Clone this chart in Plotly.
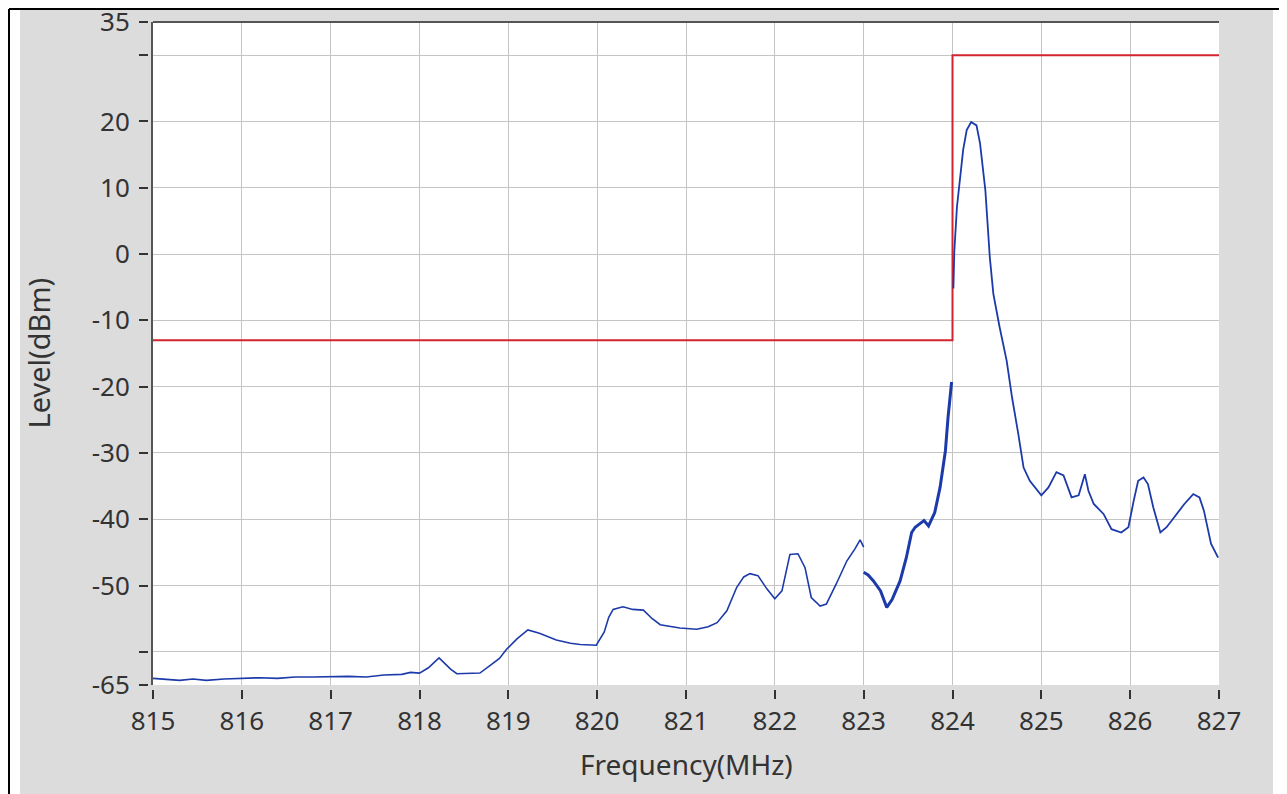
import plotly.graph_objects as go

# spectrum trace (three separate sweeps)
SEG1_FREQ = [815.0, 815.15, 815.3, 815.45, 815.6, 815.8, 816.0, 816.2, 816.4, 816.6, 816.8, 817.0, 817.2,
             817.4, 817.6, 817.8, 817.9, 818.0, 818.1, 818.22, 818.35, 818.42,
             818.68, 818.8, 818.9, 818.98, 819.1, 819.22, 819.35, 819.54, 819.7, 819.81, 819.99, 820.08,
             820.13, 820.18, 820.29, 820.4, 820.52, 820.62, 820.71, 820.93, 821.12, 821.25, 821.35, 821.46,
             821.57, 821.65, 821.72, 821.81, 821.91, 822.0, 822.08, 822.17, 822.26, 822.34, 822.41, 822.51,
             822.58, 822.69, 822.81, 822.9, 822.96, 823.0]
SEG1_LEVEL = [-64.0, -64.2, -64.3, -64.1, -64.3, -64.1, -64.0, -63.9, -64.0, -63.8, -63.8, -63.7, -63.7,
              -63.8, -63.5, -63.4, -63.1, -63.2, -62.4, -60.9, -62.6, -63.3,
              -63.2, -62.0, -61.0, -59.6, -58.0, -56.7, -57.2, -58.2, -58.7, -58.9, -59.0, -57.0,
              -54.8, -53.6, -53.2, -53.6, -53.7, -55.0, -55.9, -56.4, -56.6, -56.2, -55.6, -53.8,
              -50.3, -48.7, -48.2, -48.5, -50.5, -52.0, -50.8, -45.3, -45.2, -47.3, -51.8, -53.1,
              -52.8, -49.8, -46.3, -44.5, -43.1, -44.2]

SEG2_FREQ = [823.0, 823.05, 823.11, 823.19, 823.26, 823.32, 823.41, 823.48, 823.54, 823.58, 823.63, 823.68,
             823.73, 823.80, 823.86, 823.92, 823.95, 823.99]
SEG2_LEVEL = [-48.0, -48.4, -49.3, -50.8, -53.3, -52.1, -49.3, -45.8, -42.0, -41.2, -40.7, -40.2,
              -41.0, -39.0, -35.2, -29.7, -24.6, -19.3]

SEG3_FREQ = [824.01, 824.02, 824.05, 824.08, 824.12, 824.16, 824.21, 824.27, 824.31, 824.37, 824.42,
             824.46, 824.53, 824.61, 824.67, 824.74, 824.80, 824.87, 825.0, 825.08, 825.17, 825.25,
             825.34, 825.42, 825.49, 825.53, 825.59, 825.70, 825.79, 825.90, 825.98, 826.04, 826.09,
             826.15, 826.20, 826.26, 826.34, 826.41, 826.52, 826.61, 826.71, 826.78, 826.83, 826.91, 826.99]
SEG3_LEVEL = [-5.2, 0.3, 7.1, 11.1, 15.7, 18.7, 19.9, 19.4, 16.7, 9.6, -0.5,
              -6.0, -11.0, -16.1, -21.6, -27.1, -32.2, -34.2, -36.4, -35.2, -32.9, -33.4,
              -36.7, -36.4, -33.2, -35.7, -37.7, -39.2, -41.5, -42.0, -41.2, -37.2, -34.2,
              -33.7, -34.7, -38.2, -42.0, -41.2, -39.2, -37.7, -36.2, -36.7, -38.7, -43.7, -45.8]

# limit mask
LIMIT_FREQ = [815, 824, 824, 827]
LIMIT_LEVEL = [-13, -13, 30, 30]

X_TICKS = list(range(815, 828))
Y_TICKS = [35, 30, 20, 10, 0, -10, -20, -30, -40, -50, -60, -65]
Y_TICK_TEXT = ["35", "", "20", "10", "0", "-10", "-20", "-30", "-40", "-50", "", "-65"]

# the page puts the figure 8px in from the window corner, so size it to fit
OFF = 8
PAGE_W, PAGE_H = 1287, 794
W, H = PAGE_W - OFF, PAGE_H - OFF
# plot area in window pixels
PL, PR, PT, PB = 153, 1219, 22, 685

FONT = "Noto Sans"
TEXT_COLOR = "#333333"
PANEL = "#dcdcdc"
BLUE = "#1c3aa9"
RED = "#d3232c"


def px_x(p):
  return (p - PL) / (PR - PL)


def px_y(p):
  return (PB - p) / (PB - PT)


def main():
  fig = go.Figure()
  fig.add_trace(go.Scatter(x=LIMIT_FREQ, y=LIMIT_LEVEL, mode="lines", line=dict(color=RED, width=2)))
  fig.add_trace(go.Scatter(x=SEG1_FREQ, y=SEG1_LEVEL, mode="lines", line=dict(color=BLUE, width=1.6)))
  fig.add_trace(go.Scatter(x=SEG2_FREQ, y=SEG2_LEVEL, mode="lines", line=dict(color=BLUE, width=3)))
  fig.add_trace(go.Scatter(x=SEG3_FREQ, y=SEG3_LEVEL, mode="lines", line=dict(color=BLUE, width=1.8)))

  shapes = [
    # white page around the grey panel
    dict(type="rect", xref="paper", yref="paper", x0=px_x(0), x1=px_x(PAGE_W), y0=px_y(10), y1=px_y(0),
         fillcolor="white", line_width=0, layer="below"),
    dict(type="rect", xref="paper", yref="paper", x0=px_x(0), x1=px_x(20), y0=px_y(PAGE_H), y1=px_y(0),
         fillcolor="white", line_width=0, layer="below"),
    dict(type="rect", xref="paper", yref="paper", x0=px_x(1273), x1=px_x(PAGE_W), y0=px_y(PAGE_H), y1=px_y(0),
         fillcolor="white", line_width=0, layer="below"),
    # table lines
    dict(type="line", xref="paper", yref="paper", x0=px_x(9), x1=px_x(PAGE_W), y0=px_y(9), y1=px_y(9),
         line=dict(color="black", width=2)),
    dict(type="line", xref="paper", yref="paper", x0=px_x(9), x1=px_x(9), y0=px_y(PAGE_H), y1=px_y(9),
         line=dict(color="black", width=2)),
    # plot frame top edge
    dict(type="line", xref="paper", yref="paper", x0=0, x1=1, y0=1, y1=1,
         line=dict(color="#555555", width=2)),
    # gap between plot edge and tick marks
    dict(type="rect", xref="paper", yref="paper", x0=px_x(PL - 1), x1=px_x(PR + 2), y0=px_y(PB + 5),
         y1=px_y(PB + 0.5), fillcolor=PANEL, line_width=0, layer="above"),
    dict(type="rect", xref="paper", yref="paper", x0=px_x(PL - 5), x1=px_x(PL - 2), y0=px_y(PB + 3),
         y1=px_y(PT - 3), fillcolor=PANEL, line_width=0, layer="above"),
  ]

  fig.update_layout(
    width=W, height=H,
    margin=dict(l=PL - OFF, r=PAGE_W - PR, t=PT - OFF, b=PAGE_H - PB, autoexpand=False),
    paper_bgcolor=PANEL,
    plot_bgcolor="white",
    showlegend=False,
    font=dict(family=FONT, size=26, color=TEXT_COLOR),
    shapes=shapes,
    annotations=[
      dict(text="Frequency(MHz)", xref="paper", yref="paper", x=0.5, y=px_y(764), xanchor="center",
           yanchor="middle", showarrow=False, font=dict(size=28, color=TEXT_COLOR)),
      dict(text="Level(dBm)", xref="paper", yref="paper", x=px_x(38), y=0.5, xanchor="center",
           yanchor="middle", textangle=-90, showarrow=False, font=dict(size=29, color=TEXT_COLOR)),
    ],
  )
  fig.update_xaxes(
    range=[815, 827], tickvals=X_TICKS, ticks="outside", ticklen=13, tickwidth=2, tickcolor=TEXT_COLOR,
    showgrid=True, gridcolor="#c4c4c4", gridwidth=1, zeroline=False, showline=False,
    tickfont=dict(size=26, color=TEXT_COLOR), ticklabeloverflow="allow",
  )
  fig.update_yaxes(
    range=[-65, 35], tickvals=Y_TICKS, ticktext=Y_TICK_TEXT, ticks="outside", ticklen=12, tickwidth=2,
    tickcolor=TEXT_COLOR, showgrid=True, gridcolor="#c4c4c4", gridwidth=1, zeroline=False,
    showline=True, linecolor="#555555", linewidth=2, tickfont=dict(size=26, color=TEXT_COLOR),
    ticklabelstandoff=4, ticklabeloverflow="allow",
  )

  fig.write_html("out.html")


if __name__ == "__main__":
  main()
